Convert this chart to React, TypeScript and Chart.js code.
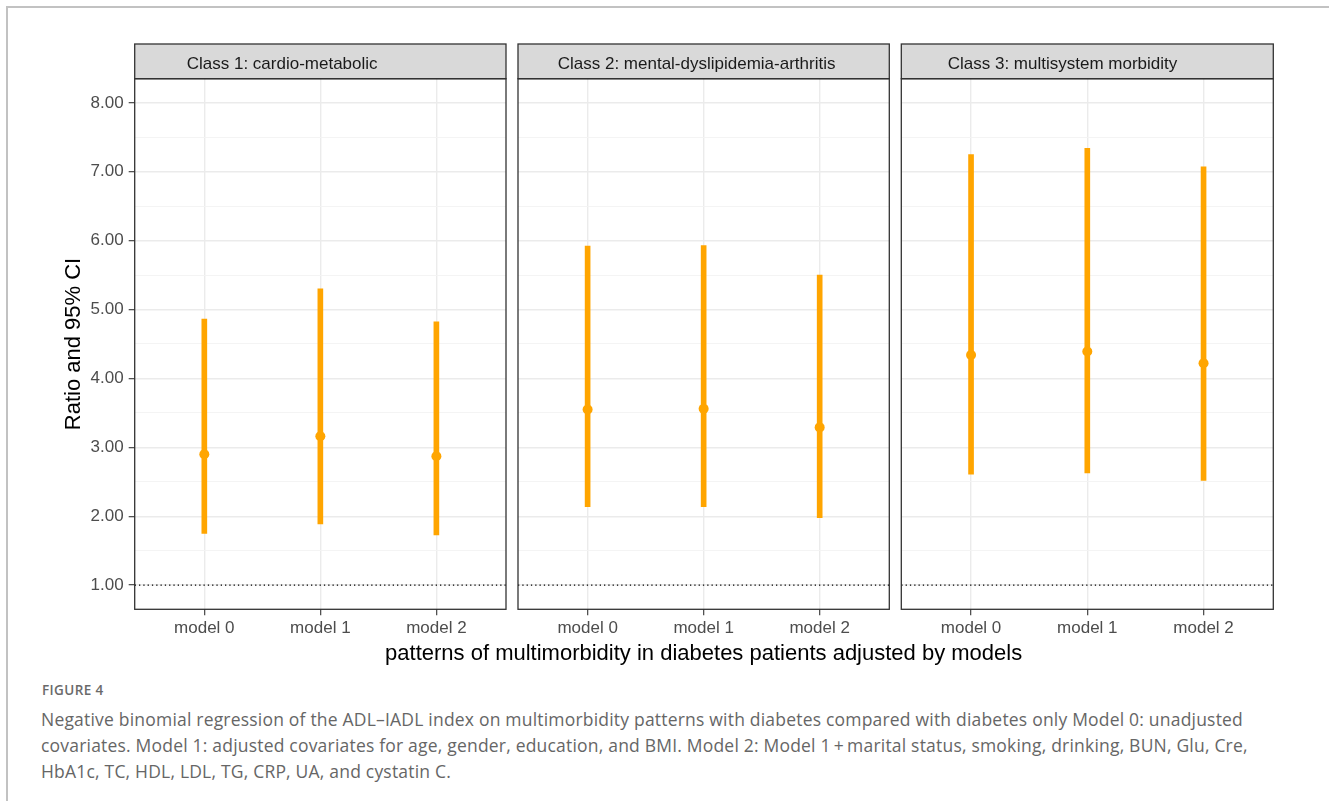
import React, { useEffect, useRef } from 'react';
import { Chart, registerables } from 'chart.js';

Chart.register(...registerables);

// ---------------- data ----------------
const modelLabels = ['model 0', 'model 1', 'model 2'];
const classLabels = [
  'Class 1: cardio-metabolic',
  'Class 2: mental-dyslipidemia-arthritis',
  'Class 3: multisystem morbidity',
];

const class1Ratio = [2.9, 3.16, 2.87];
const class1Lower = [1.75, 1.89, 1.73];
const class1Upper = [4.86, 5.3, 4.82];

const class2Ratio = [3.55, 3.56, 3.29];
const class2Lower = [2.14, 2.14, 1.98];
const class2Upper = [5.92, 5.93, 5.5];

const class3Ratio = [4.34, 4.39, 4.22];
const class3Lower = [2.61, 2.63, 2.52];
const class3Upper = [7.25, 7.34, 7.07];

const yMajorTicks = [1, 2, 3, 4, 5, 6, 7, 8];
const yMinorTicks = [1.5, 2.5, 3.5, 4.5, 5.5, 6.5, 7.5];
const referenceRatio = 1;
const yLimits = [0.65, 8.35];
const xLimits = [0.4, 3.6];

const xAxisTitle = 'patterns of multimorbidity in diabetes patients adjusted by models';
const yAxisTitle = 'Ratio and 95% CI';

const figureLabel = 'FIGURE 4';
const captionLines = [
  'Negative binomial regression of the ADL\u2013IADL index on multimorbidity patterns with diabetes compared with diabetes only Model 0: unadjusted',
  'covariates. Model 1: adjusted covariates for age, gender, education, and BMI. Model 2: Model 1\u2009+\u2009marital status, smoking, drinking, BUN, Glu, Cre,',
  'HbA1c, TC, HDL, LDL, TG, CRP, UA, and cystatin C.',
];

const seriesByClass = [
  { ratio: class1Ratio, lower: class1Lower, upper: class1Upper },
  { ratio: class2Ratio, lower: class2Lower, upper: class2Upper },
  { ratio: class3Ratio, lower: class3Lower, upper: class3Upper },
];

// ---------------- layout / style ----------------
const PAGE_W = 1329;
const PAGE_H = 801;
const CANVAS_H = 680;
const STRIP_TOP = 44;
const PLOT_TOP = 78.7;
const PLOT_BOTTOM = 609.3;
const panelLeft = [134.7, 518, 901.3];
const panelRight = [506, 889.3, 1273.3];
const stripTextInset = [52, 39.7, 46.4];
const STRIP_BASELINE = 69.3;
const XTITLE_BASELINE = 660;

const ORANGE = '#FFA500';
const FONT = '"Liberation Sans", Arial, Helvetica, sans-serif';

Chart.defaults.font.family = FONT;

const isMajor = (v: number) => yMajorTicks.includes(v);

function makeFacetPlugin(label: string, inset: number, withXTitle: boolean) {
  return {
    id: 'facetStrip',
    afterDraw(chart: any) {
      const { ctx, chartArea } = chart;
      const { left, right, top, bottom } = chartArea;
      ctx.save();
      ctx.fillStyle = '#D9D9D9';
      ctx.fillRect(left, STRIP_TOP, right - left, top - STRIP_TOP);
      ctx.strokeStyle = '#333333';
      ctx.lineWidth = 1.3;
      ctx.strokeRect(left, STRIP_TOP, right - left, top - STRIP_TOP);
      ctx.strokeRect(left, top, right - left, bottom - top);
      ctx.fillStyle = '#1A1A1A';
      ctx.font = `17px ${FONT}`;
      ctx.textAlign = 'left';
      ctx.textBaseline = 'alphabetic';
      ctx.fillText(label, left + inset, STRIP_BASELINE);
      if (withXTitle) {
        ctx.fillStyle = '#000000';
        ctx.font = `22px ${FONT}`;
        ctx.textAlign = 'center';
        ctx.fillText(xAxisTitle, (left + right) / 2, XTITLE_BASELINE);
      }
      ctx.restore();
    },
  };
}

function FacetPanel({ idx }: { idx: number }) {
  const ref = useRef<HTMLCanvasElement | null>(null);

  useEffect(() => {
    const canvas = ref.current;
    if (!canvas) return;
    const s = seriesByClass[idx];

    const chart = new Chart(canvas, {
      type: 'bar',
      data: {
        datasets: [
          {
            type: 'line',
            data: s.ratio.map((v, k) => ({ x: k + 1, y: v })),
            showLine: false,
            pointRadius: 5,
            pointBackgroundColor: ORANGE,
            pointBorderColor: ORANGE,
            pointBorderWidth: 0,
            order: 0,
          } as any,
          {
            type: 'bar',
            data: modelLabels.map((_, k) => ({ x: k + 1, y: [s.lower[k], s.upper[k]] })),
            backgroundColor: ORANGE,
            borderWidth: 0,
            barThickness: 5,
            grouped: false,
            order: 1,
          } as any,
          {
            type: 'line',
            data: [
              { x: xLimits[0], y: referenceRatio },
              { x: xLimits[1], y: referenceRatio },
            ],
            borderColor: '#000000',
            borderWidth: 1.3,
            borderDash: [1.3, 3],
            pointRadius: 0,
            order: 2,
          } as any,
        ],
      },
      options: {
        responsive: false,
        animation: false,
        events: [],
        layout: {
          padding: {
            top: PLOT_TOP,
            bottom: 0,
            left: idx === 0 ? 0 : panelLeft[idx],
            right: PAGE_W - panelRight[idx],
          },
        },
        plugins: {
          legend: { display: false },
          tooltip: { enabled: false },
          title: { display: false },
        },
        scales: {
          x: {
            type: 'linear',
            min: xLimits[0],
            max: xLimits[1],
            bounds: 'data',
            offset: false,
            afterBuildTicks: (sc: any) => {
              sc.ticks = modelLabels.map((_, k) => ({ value: k + 1 }));
            },
            afterFit: (sc: any) => {
              sc.height = CANVAS_H - PLOT_BOTTOM;
            },
            ticks: {
              autoSkip: false,
              maxRotation: 0,
              padding: 3,
              color: '#4D4D4D',
              font: { size: 17 },
              callback: (v: any) => modelLabels[Math.round(Number(v)) - 1] ?? '',
            },
            grid: {
              offset: false,
              color: '#EBEBEB',
              lineWidth: 1.4,
              tickColor: '#333333',
              tickLength: 6,
              tickWidth: 1.1,
              drawTicks: true,
            },
            border: { display: false },
            title: { display: false },
          } as any,
          y: {
            type: 'linear',
            min: yLimits[0],
            max: yLimits[1],
            bounds: 'data',
            afterBuildTicks: (sc: any) => {
              sc.ticks = [...yMajorTicks, ...yMinorTicks]
                .sort((a, b) => a - b)
                .map((v) => ({ value: v }));
            },
            afterFit: (sc: any) => {
              sc.width = idx === 0 ? panelLeft[0] : 0;
            },
            ticks: {
              display: idx === 0,
              autoSkip: false,
              padding: 5,
              color: '#4D4D4D',
              font: { size: 17 },
              callback: (v: any) => (isMajor(Number(v)) ? Number(v).toFixed(2) : ''),
            },
            grid: {
              color: (c: any) => (c.tick && isMajor(c.tick.value) ? '#EBEBEB' : '#F3F3F3'),
              lineWidth: (c: any) => (c.tick && isMajor(c.tick.value) ? 1.4 : 0.9),
              tickColor: (c: any) =>
                idx === 0 && c.tick && isMajor(c.tick.value) ? '#333333' : 'rgba(0,0,0,0)',
              tickLength: 6,
              tickWidth: 1.1,
              drawTicks: idx === 0,
            },
            border: { display: false },
            title:
              idx === 0
                ? {
                    display: true,
                    text: yAxisTitle,
                    color: '#000000',
                    font: { size: 22, lineHeight: 1.2 },
                    padding: { top: 61, bottom: 0 },
                  }
                : { display: false },
          } as any,
        },
      },
      plugins: [makeFacetPlugin(classLabels[idx], stripTextInset[idx], idx === 1)],
    } as any);

    return () => chart.destroy();
  }, [idx]);

  return (
    <canvas
      ref={ref}
      width={PAGE_W}
      height={CANVAS_H}
      style={{ position: 'absolute', left: 0, top: 0, width: PAGE_W, height: CANVAS_H }}
    />
  );
}

export default function App() {
  return (
    <div
      style={{
        position: 'fixed',
        left: 0,
        top: 0,
        width: PAGE_W,
        height: PAGE_H,
        background: '#ffffff',
        overflow: 'hidden',
      }}
    >
      <div style={{ position: 'absolute', left: 6, top: 6, width: PAGE_W - 6, height: 2, background: '#C2C2C2' }} />
      <div style={{ position: 'absolute', left: 6, top: 6, width: 2, height: PAGE_H - 6, background: '#C2C2C2' }} />
      {classLabels.map((_, i) => (
        <FacetPanel key={i} idx={i} />
      ))}
      <div
        style={{
          position: 'absolute',
          left: 42,
          top: 681,
          fontFamily: '"Open Sans", "Noto Sans", sans-serif',
          fontWeight: 600,
          fontSize: 13.5,
          lineHeight: '18px',
          color: '#6A6A6A',
          letterSpacing: 0.4,
          whiteSpace: 'nowrap',
        }}
      >
        {figureLabel}
      </div>
      {captionLines.map((line, i) => (
        <div
          key={i}
          style={{
            position: 'absolute',
            left: 41,
            top: 706 + i * 26,
            fontFamily: '"Open Sans", "Noto Sans", sans-serif',
            fontSize: 17.5,
            lineHeight: '26px',
            letterSpacing: 0.2,
            color: '#666666',
            whiteSpace: 'nowrap',
          }}
        >
          {line}
        </div>
      ))}
    </div>
  );
}
